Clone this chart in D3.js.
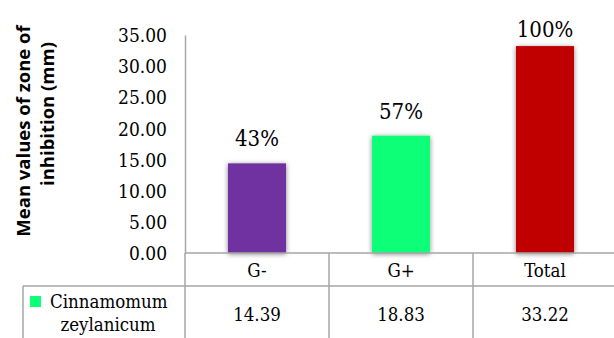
<!DOCTYPE html>
<html>
<head>
<meta charset="utf-8">
<script src="https://cdn.jsdelivr.net/npm/d3@7"></script>
<style>
  html, body { margin: 0; padding: 0; background: #ffffff; }
  svg { display: block; }
</style>
</head>
<body>
<svg id="chart" width="614" height="338"></svg>
<script>
// Chart data
const categories = ["G-", "G+", "Total"];
const values = [14.39, 18.83, 33.22];
const percentLabels = ["43%", "57%", "100%"];
const barColors = ["#7030A0", "#0DFF78", "#C00000"];
const seriesName = ["Cinnamomum", "zeylanicum"];
const yTicks = [0, 5, 10, 15, 20, 25, 30, 35];
const yTitle = ["Mean values of zone of", "inhibition (mm)"];

const W = 614, H = 338;
const plotLeft = 185, plotRight = 617;
const baseY = 253, topY = 35;
const catRowBottom = 286, tableLeft = 23;
const gridColor = "#a6a6a6";
const SERIF = "'DejaVu Serif Condensed', 'DejaVu Serif', 'Liberation Serif', serif";

const svg = d3.select("#chart");

// Soft shadow behind the bars
const defs = svg.append("defs");
const f = defs.append("filter").attr("id", "barShadow")
  .attr("x", "-30%").attr("y", "-10%").attr("width", "160%").attr("height", "120%");
f.append("feDropShadow").attr("dx", 0).attr("dy", 1).attr("stdDeviation", 2.5)
  .attr("flood-color", "#000").attr("flood-opacity", 0.5);

const x = d3.scaleBand().domain(categories).range([plotLeft, plotRight]).padding(0);
const y = d3.scaleLinear().domain([0, 35]).range([baseY, topY]);
const barW = x.bandwidth() * 0.403;

function serif(sel, size) {
  return sel.style("font-family", SERIF).style("font-size", size + "px").style("fill", "#000");
}

// Y axis
const yAxis = d3.axisLeft(y)
  .tickValues(yTicks)
  .tickFormat(d3.format(".2f"))
  .tickSize(0)
  .tickSizeOuter(0)
  .tickPadding(18);
const gy = svg.append("g").attr("transform", `translate(${plotLeft},0)`).call(yAxis);
gy.select(".domain").attr("stroke", gridColor).attr("stroke-width", 1.5);
serif(gy.selectAll(".tick text"), 19).attr("dy", "0.35em");

// Y axis title, two rotated lines
const titleLines = [
  { text: yTitle[0], bx: 30, cy: 131 },
  { text: yTitle[1], bx: 54, cy: 114 }
];
svg.append("g").selectAll("text").data(titleLines).join("text")
  .attr("transform", d => `translate(${d.bx},${d.cy}) rotate(-90)`)
  .attr("text-anchor", "middle")
  .style("font-family", "'Open Sans', 'DejaVu Sans', sans-serif")
  .style("font-weight", "bold")
  .style("font-size", "18.5px")
  .style("fill", "#000")
  .text(d => d.text);

// Bars
const data = categories.map((c, i) => ({ cat: c, v: values[i], pct: percentLabels[i], color: barColors[i] }));
svg.append("g").selectAll("rect").data(data).join("rect")
  .attr("x", d => x(d.cat) + (x.bandwidth() - barW) / 2)
  .attr("y", d => y(d.v))
  .attr("width", barW)
  .attr("height", d => baseY - y(d.v))
  .attr("fill", d => d.color)
  .attr("filter", "url(#barShadow)");

// Percentage labels above bars
serif(svg.append("g").selectAll("text").data(data).join("text"), 22)
  .attr("x", d => x(d.cat) + x.bandwidth() / 2)
  .attr("y", d => Math.max(y(d.v) - 17, 37))
  .attr("text-anchor", "middle")
  .text(d => d.pct);

// Data table grid
const grid = svg.append("g").attr("stroke", gridColor).attr("stroke-width", 1.5).attr("fill", "none");
grid.append("line").attr("x1", plotLeft).attr("x2", W).attr("y1", baseY).attr("y2", baseY);
grid.append("line").attr("x1", tableLeft).attr("x2", W).attr("y1", catRowBottom).attr("y2", catRowBottom);
grid.append("line").attr("x1", plotLeft).attr("x2", plotLeft).attr("y1", baseY).attr("y2", H);
grid.append("line").attr("x1", tableLeft).attr("x2", tableLeft).attr("y1", catRowBottom).attr("y2", H);
grid.selectAll("line.sep").data(categories.slice(1)).join("line").attr("class", "sep")
  .attr("x1", d => x(d)).attr("x2", d => x(d)).attr("y1", baseY).attr("y2", H);

// Category row
serif(svg.append("g").selectAll("text").data(categories).join("text"), 18.5)
  .attr("x", d => x(d) + x.bandwidth() / 2)
  .attr("y", 277)
  .attr("text-anchor", "middle")
  .text(d => d);

// Value row
serif(svg.append("g").selectAll("text").data(data).join("text"), 18.5)
  .attr("x", d => x(d.cat) + x.bandwidth() / 2)
  .attr("y", 321)
  .attr("text-anchor", "middle")
  .text(d => d.v.toFixed(2));

// Legend key and series name
svg.append("rect").attr("x", 30).attr("y", 296).attr("width", 11).attr("height", 11).attr("fill", barColors[1]);
serif(svg.append("text"), 18.5).attr("x", 50).attr("y", 308).text(seriesName[0]);
serif(svg.append("text"), 18.5).attr("x", 108).attr("y", 331).attr("text-anchor", "middle").text(seriesName[1]);
</script>
</body>
</html>
